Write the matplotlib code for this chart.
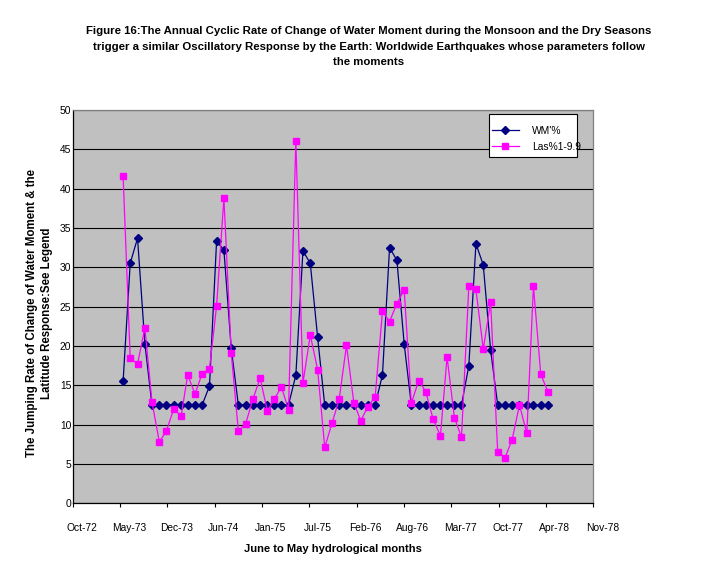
import datetime as dt
import matplotlib
matplotlib.use("Agg")
import matplotlib.pyplot as plt
import matplotlib.transforms as mtransforms
from matplotlib.patches import Rectangle
import pandas as pd

plt.rcParams['font.family'] = ['Liberation Sans', 'DejaVu Sans']

# ---------------- data ----------------
months = pd.date_range('1973-06-01', '1978-05-01', freq='MS')

wm = [15.5, 30.5, 33.7, 20.3, 12.5, 12.5, 12.5, 12.5, 12.5, 12.5, 12.5, 12.5,
      14.9, 33.3, 32.2, 19.7, 12.5, 12.5, 12.5, 12.5, 12.5, 12.5, 12.5, 12.5,
      16.3, 32.1, 30.5, 21.1, 12.5, 12.5, 12.5, 12.5, 12.5, 12.5, 12.5, 12.5,
      16.3, 32.5, 30.9, 20.2, 12.5, 12.5, 12.5, 12.5, 12.5, 12.5, 12.5, 12.5,
      17.5, 33.0, 30.3, 19.5, 12.5, 12.5, 12.5, 12.5, 12.5, 12.5, 12.5, 12.5]

las = [41.6, 18.5, 17.7, 22.3, 12.9, 7.8, 9.2, 12.0, 11.1, 16.3, 13.9, 16.5,
       17.1, 25.1, 38.8, 19.1, 9.2, 10.1, 13.2, 15.9, 11.7, 13.2, 14.8, 11.9,
       46.1, 15.3, 21.4, 17.0, 7.1, 10.2, 13.2, 20.1, 12.8, 10.5, 12.3, 13.5,
       24.4, 23.1, 25.4, 27.1, 12.7, 15.6, 14.2, 10.7, 8.6, 18.6, 10.9, 8.4,
       27.6, 27.2, 19.6, 25.6, 6.5, 5.8, 8.1, 12.5, 8.9, 27.6, 16.4, 14.2]

series_names = ["WM'%", "Las%1-9.9"]

tick_labels = ['Oct-72', 'May-73', 'Dec-73', 'Jun-74', 'Jan-75', 'Jul-75',
               'Feb-76', 'Aug-76', 'Mar-77', 'Oct-77', 'Apr-78', 'Nov-78']
axis_start = dt.date(1972, 10, 31)
tick_step_days = 200
y_ticks = [0, 5, 10, 15, 20, 25, 30, 35, 40, 45, 50]

title = ("Figure 16:The Annual Cyclic Rate of Change of Water Moment during the Monsoon and the Dry Seasons\n"
         "trigger a similar Oscillatory Response by the Earth: Worldwide Earthquakes whose parameters follow\n"
         "the moments")
xlabel = "June to May hydrological months"
ylabel = "The Jumping Rate of Change of Water Moment & the\nLatitude Response:See Legend"

# ---------------- figure ----------------
W, H = 713, 574
fig = plt.figure(figsize=(W / 100, H / 100), dpi=100)
fig.patch.set_facecolor('white')

left, right, top, bottom = 72.7, 593.3, 110.0, 503.3
ax = fig.add_axes([left / W, 1 - bottom / H, (right - left) / W, (bottom - top) / H])
ax.set_facecolor('#C0C0C0')

tick_dates = [axis_start + dt.timedelta(days=tick_step_days * i) for i in range(len(tick_labels))]

ax.plot(months, wm, color='#000080', lw=0.9, marker='D', ms=3.6,
        mfc='#000080', mec='#000080', label=series_names[0], zorder=3)
ax.plot(months, las, color='#FF00FF', lw=0.9, marker='s', ms=4.8,
        mfc='#FF00FF', mec='#FF00FF', label=series_names[1], zorder=4)

ax.set_xlim(tick_dates[0], tick_dates[-1])
ax.set_ylim(0, 50)
ax.set_xticks(tick_dates)
ax.set_xticklabels(tick_labels)
ax.set_yticks(y_ticks)
ax.set_yticklabels([str(v) for v in y_ticks])

ax.yaxis.grid(True, color='#000000', lw=0.8)
ax.set_axisbelow(True)

for s in ['left', 'bottom']:
    ax.spines[s].set_color('black')
    ax.spines[s].set_linewidth(0.9)
for s in ['top', 'right']:
    ax.spines[s].set_color('#808080')
    ax.spines[s].set_linewidth(0.9)

ax.tick_params(axis='x', direction='out', length=3, width=0.8, labelsize=7.4, pad=11)
ax.tick_params(axis='y', direction='out', length=0, labelsize=7.4, pad=1)

offset = mtransforms.ScaledTranslation(9 / 100, 0, fig.dpi_scale_trans)
for lab in ax.get_xticklabels():
    lab.set_transform(lab.get_transform() + offset)

# titles / labels
fig.text(369 / W, 1 - 46.5 / H, title, ha='center', va='center', fontsize=8.2,
         fontweight='bold', linespacing=1.68, multialignment='center')
fig.text(333 / W, 1 - 549 / H, xlabel, ha='center', va='center', fontsize=8,
         fontweight='bold')
fig.text(39.5 / W, 1 - 313 / H, ylabel, ha='center', va='center', fontsize=8.3,
         fontweight='bold', rotation=90, multialignment='center', linespacing=1.39)

# legend box
box = Rectangle((489.3 / W, 1 - 156.7 / H), 88 / W, 42.4 / H, transform=fig.transFigure,
                facecolor='white', edgecolor='black', lw=0.8, zorder=5, clip_on=False)
ax.add_artist(box)
leg = ax.legend(loc='upper left', bbox_to_anchor=(489.3 / W, 1 - 122.5 / H),
                bbox_transform=fig.transFigure, frameon=False, fontsize=7.4,
                handlelength=2.55, handletextpad=1.3, labelspacing=0.6,
                borderpad=0.3, borderaxespad=0)
leg.set_zorder(6)

fig.savefig('out.png', dpi=100)
